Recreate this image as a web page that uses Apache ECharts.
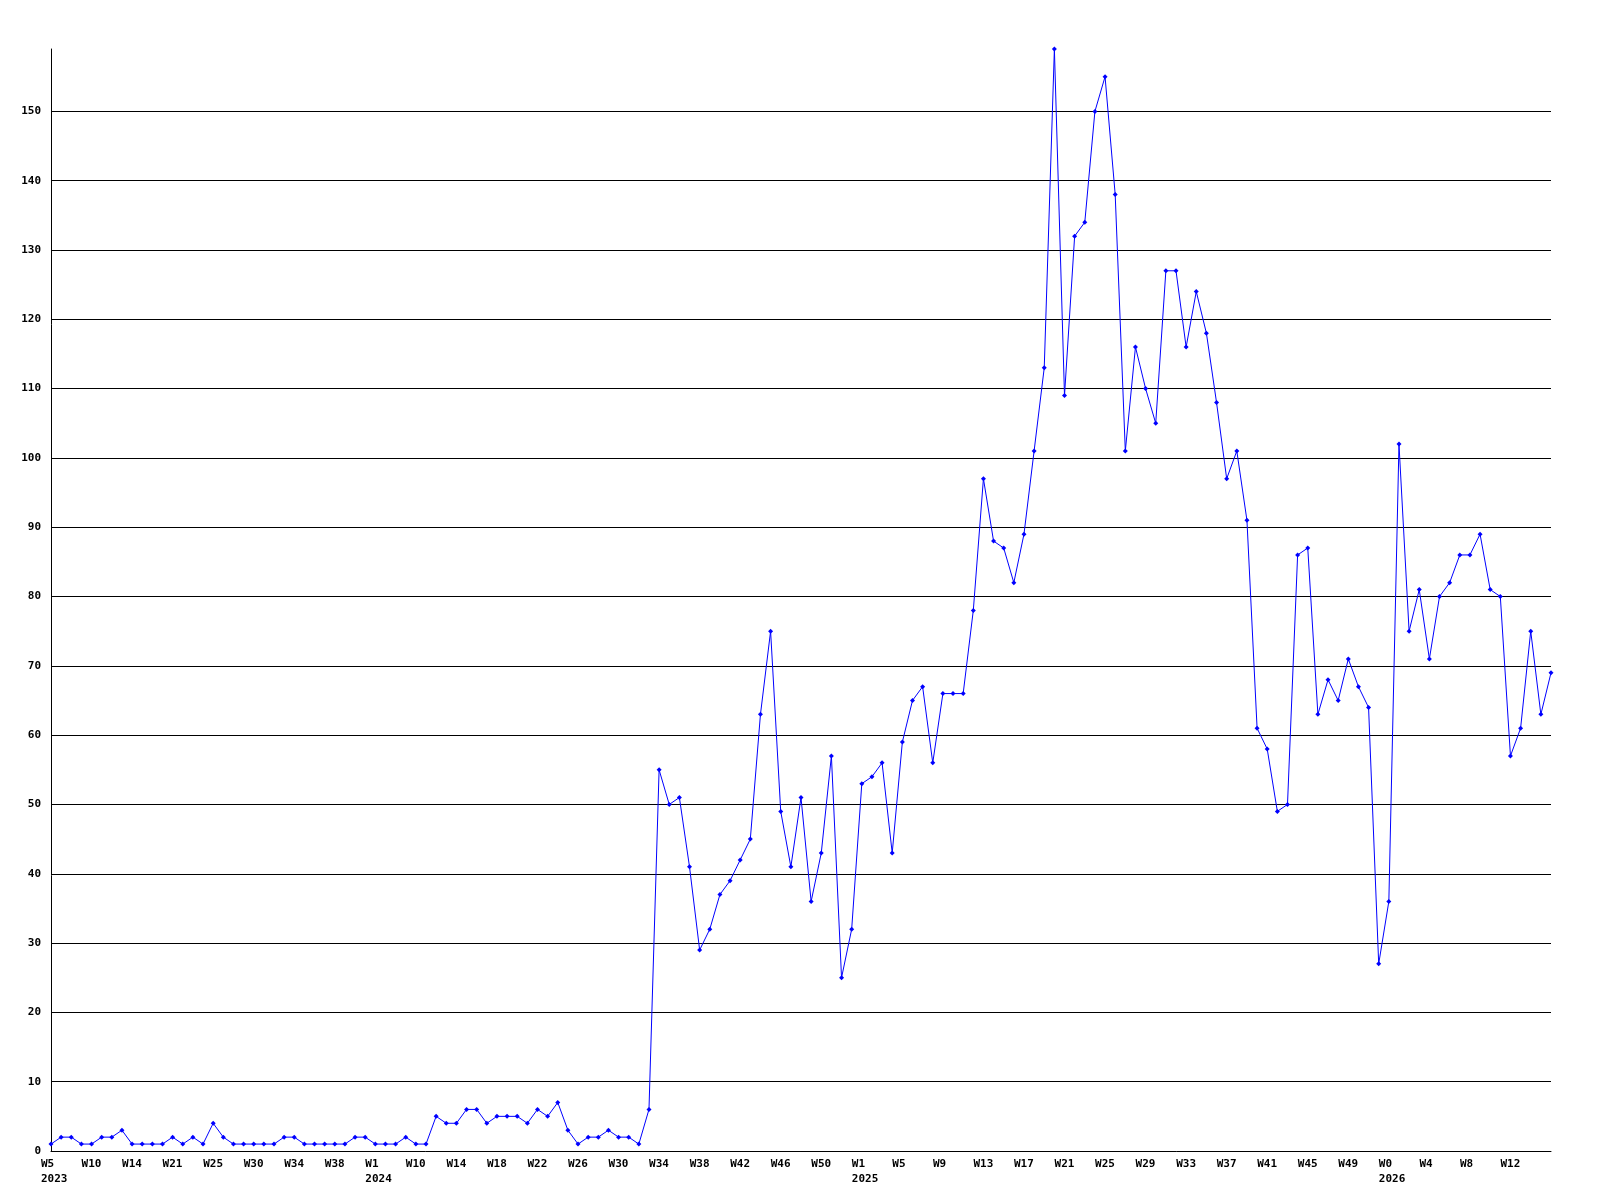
<!DOCTYPE html>
<html>
<head>
<meta charset="utf-8">
<script src="https://cdn.jsdelivr.net/npm/echarts@6/dist/echarts.min.js"></script>
<style>html,body{margin:0;padding:0;background:#fff}#c{width:1600px;height:1200px}</style>
</head>
<body>
<div id="c"></div>
<script>
const categories = [
 '2023 W5','2023 W6','2023 W8','2023 W9','2023 W10','2023 W11','2023 W12','2023 W13','2023 W14','2023 W16',
 '2023 W18','2023 W20','2023 W21','2023 W22','2023 W23','2023 W24','2023 W25','2023 W26','2023 W27','2023 W29',
 '2023 W30','2023 W31','2023 W32','2023 W33','2023 W34','2023 W35','2023 W36','2023 W37','2023 W38','2023 W40',
 '2023 W45','2023 W51',
 '2024 W1','2024 W3','2024 W6','2024 W8','2024 W10','2024 W11','2024 W12','2024 W13','2024 W14','2024 W15',
 '2024 W16','2024 W17','2024 W18','2024 W19','2024 W20','2024 W21','2024 W22','2024 W23','2024 W24','2024 W25',
 '2024 W26','2024 W27','2024 W28','2024 W29','2024 W30','2024 W31','2024 W32','2024 W33','2024 W34','2024 W35',
 '2024 W36','2024 W37','2024 W38','2024 W39','2024 W40','2024 W41','2024 W42','2024 W43','2024 W44','2024 W45',
 '2024 W46','2024 W47','2024 W48','2024 W49','2024 W50','2024 W51','2024 W52','2024 W53',
 '2025 W1','2025 W2','2025 W3','2025 W4','2025 W5','2025 W6','2025 W7','2025 W8','2025 W9','2025 W10',
 '2025 W11','2025 W12','2025 W13','2025 W14','2025 W15','2025 W16','2025 W17','2025 W18','2025 W19','2025 W20',
 '2025 W21','2025 W22','2025 W23','2025 W24','2025 W25','2025 W26','2025 W27','2025 W28','2025 W29','2025 W30',
 '2025 W31','2025 W32','2025 W33','2025 W34','2025 W35','2025 W36','2025 W37','2025 W38','2025 W39','2025 W40',
 '2025 W41','2025 W42','2025 W43','2025 W44','2025 W45','2025 W46','2025 W47','2025 W48','2025 W49','2025 W50',
 '2025 W51','2025 W52',
 '2026 W0','2026 W1','2026 W2','2026 W3','2026 W4','2026 W5','2026 W6','2026 W7','2026 W8','2026 W9',
 '2026 W10','2026 W11','2026 W12','2026 W13','2026 W14','2026 W15','2026 W16'
];

const values = [
 1,2,2,1,1,2,2,3,1,1, 1,1,2,1,2,1,4,2,1,1, 1,1,1,2,2,1,1,1,1,1, 2,2,1,1,1,2,1,1,5,4,
 4,6,6,4,5,5,5,4,6,5, 7,3,1,2,2,3,2,2,1,6,
 55,50,51,41,29,32,37,39,42,45, 63,75,49,41,51,36,43,57,25,32,
 53,54,56,43,59,65,67,56,66,66, 66,78,97,88,87,82,89,101,113,159,
 109,132,134,150,155,138,101,116,110,105, 127,127,116,124,118,108,97,101,91,61,
 58,49,50,86,87,63,68,65,71,67, 64,27,36,102,75,81,71,80,82,86,
 86,89,81,80,57,61,75,63,69
];

const yMax = 159;
const yStep = 10;

const chart = echarts.init(document.getElementById('c'), null, {renderer: 'canvas'});
const font = {fontFamily: 'DejaVu Sans Mono', fontSize: 11, fontWeight: 'bold', color: '#000'};

chart.setOption({
  animation: false,
  backgroundColor: '#ffffff',
  grid: {left: 51, right: 49, top: 49, bottom: 49, containLabel: false},
  xAxis: {
    type: 'category',
    data: categories,
    boundaryGap: false,
    axisLine: {show: true, lineStyle: {color: '#000', width: 1}},
    axisTick: {show: false},
    splitLine: {show: false},
    axisLabel: Object.assign({
      interval: 3,
      margin: 6,
      lineHeight: 15,
      align: 'left',
      padding: [0, 0, 0, -10],
      showMaxLabel: false,
      formatter: function (val, idx) {
        const parts = val.split(' ');
        let s = parts[1];
        const prev = idx >= 4 ? categories[idx - 4].split(' ')[0] : null;
        if (prev !== parts[0]) s += '\n' + parts[0];
        return s;
      }
    }, font)
  },
  yAxis: {
    type: 'value',
    min: 0,
    max: yMax,
    interval: yStep,
    axisLine: {show: true, lineStyle: {color: '#000', width: 1}},
    axisTick: {show: false},
    splitLine: {show: true, showMinLine: false, showMaxLine: false, lineStyle: {color: '#000', width: 1}},
    axisLabel: Object.assign({margin: 10, showMaxLabel: false}, font)
  },
  series: [{
    type: 'line',
    data: values,
    showAllSymbol: true,
    symbol: 'diamond',
    symbolSize: 5,
    lineStyle: {color: '#0000ff', width: 1},
    itemStyle: {color: '#0000ff'}
  }]
});
</script>
</body>
</html>
